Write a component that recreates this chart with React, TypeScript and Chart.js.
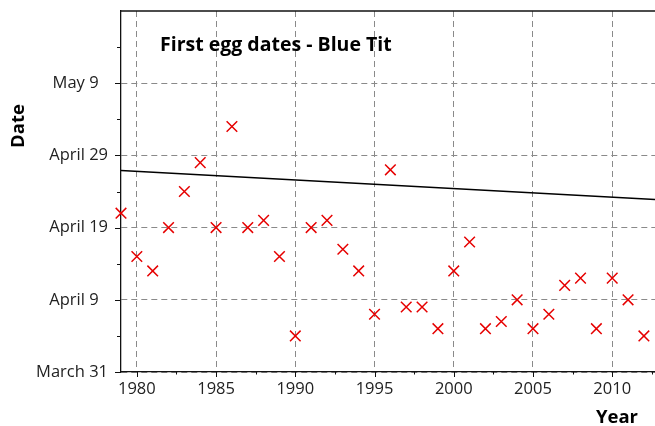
import React, { useEffect, useRef } from "react";
import { Chart, registerables } from "chart.js";

Chart.register(...registerables);

// ---- data ----
const years = [
  1979, 1980, 1981, 1982, 1983, 1984, 1985, 1986, 1987, 1988, 1989, 1990,
  1991, 1992, 1993, 1994, 1995, 1996, 1997, 1998, 1999, 2000, 2001, 2002,
  2003, 2004, 2005, 2006, 2007, 2008, 2009, 2010, 2011, 2012,
];
// days after March 31
const firstEggDays = [
  22, 16, 14, 20, 25, 29, 20, 34, 20, 21, 16, 5,
  20, 21, 17, 14, 8, 28, 9, 9, 6, 14, 18, 6,
  7, 10, 6, 8, 12, 13, 6, 13, 10, 5,
];
const trendYears = [1979, 2012.7];
const trendDays = [27.9, 23.9];

const yTickValues = [0, 10, 20, 30, 40];
const yTickLabels = ["March 31", "April 9\u2007", "April 19", "April 29", "May 9\u2007"];
const yMinorValues = [5, 15, 25, 35, 45];
const xTickValues = [1980, 1985, 1990, 1995, 2000, 2005, 2010];
const xMinorValues = [1982.5, 1987.5, 1992.5, 1997.5, 2002.5, 2007.5, 2012.5];

const TITLE = "First egg dates - Blue Tit";
const X_TITLE = "Year";
const Y_TITLE = "Date";

const FONT = '"Open Sans", "DejaVu Sans", sans-serif';

const decorPlugin = {
  id: "decor",
  afterDraw(chart: any) {
    const { ctx, chartArea: a, scales } = chart;
    ctx.save();
    ctx.strokeStyle = "#111";
    ctx.lineWidth = 1.3;
    // top border
    ctx.beginPath();
    ctx.moveTo(a.left, a.top);
    ctx.lineTo(chart.width, a.top);
    ctx.stroke();
    // tick marks
    ctx.lineWidth = 1;
    ctx.beginPath();
    xTickValues.forEach((v) => {
      const px = Math.round(scales.x.getPixelForValue(v)) + 0.5;
      ctx.moveTo(px, a.bottom);
      ctx.lineTo(px, a.bottom + 5);
    });
    xMinorValues.forEach((v) => {
      const px = Math.round(scales.x.getPixelForValue(v)) + 0.5;
      ctx.moveTo(px, a.bottom);
      ctx.lineTo(px, a.bottom + 2.5);
    });
    yTickValues.forEach((v) => {
      const py = Math.round(scales.y.getPixelForValue(v)) + 0.5;
      ctx.moveTo(a.left, py);
      ctx.lineTo(a.left - 6, py);
    });
    yMinorValues.forEach((v) => {
      const py = Math.round(scales.y.getPixelForValue(v)) + 0.5;
      ctx.moveTo(a.left, py);
      ctx.lineTo(a.left - 4, py);
    });
    ctx.stroke();
    // title
    ctx.fillStyle = "#000";
    ctx.font = `bold 19.5px ${FONT}`;
    ctx.textAlign = "left";
    ctx.textBaseline = "alphabetic";
    ctx.fillText(TITLE, a.left + 39, a.top + 39.5);
    // axis titles
    ctx.font = `bold 18.5px ${FONT}`;
    ctx.textAlign = "center";
    ctx.fillText(X_TITLE, 617, 423);
    ctx.save();
    ctx.translate(24, 126);
    ctx.rotate(-Math.PI / 2);
    ctx.fillText(Y_TITLE, 0, 0);
    ctx.restore();
    ctx.restore();
  },
};

const zeroPad = (s: any) => {
  s.paddingTop = 0;
  s.paddingBottom = 0;
  s.paddingLeft = 0;
  s.paddingRight = 0;
};

export default function App() {
  const ref = useRef<HTMLCanvasElement | null>(null);
  useEffect(() => {
    if (!ref.current) return;
    const chart = new Chart(ref.current, {
      type: "scatter",
      data: {
        datasets: [
          {
            label: "First egg date",
            data: years.map((y, i) => ({ x: y, y: firstEggDays[i] })),
            pointStyle: "crossRot",
            pointRadius: 7.5,
            pointHoverRadius: 7.5,
            borderColor: "#e60000",
            backgroundColor: "#e60000",
            pointBorderWidth: 1.5,
            showLine: false,
            clip: false,
          },
          {
            label: "Trend",
            data: trendYears.map((y, i) => ({ x: y, y: trendDays[i] })),
            showLine: true,
            borderColor: "#000",
            borderWidth: 1.5,
            pointRadius: 0,
            fill: false,
          },
        ],
      },
      plugins: [decorPlugin],
      options: {
        responsive: false,
        animation: false,
        events: [],
        layout: { autoPadding: false, padding: { top: 11, right: 0, left: 0, bottom: 0 } },
        plugins: {
          legend: { display: false },
          tooltip: { enabled: false },
          title: { display: false },
        },
        scales: {
          x: {
            type: "linear",
            min: 1979,
            max: 2012.7,
            afterBuildTicks: (s: any) => {
              s.ticks = xTickValues.map((v) => ({ value: v }));
            },
            afterFit: (s: any) => {
              s.height = 54;
              zeroPad(s);
            },
            ticks: {
              padding: 7,
              autoSkip: false,
              maxRotation: 0,
              color: "#222",
              font: { family: FONT, size: 16.5 },
              callback: (v: any) => String(v),
            },
            grid: {
              drawTicks: false,
              color: "#8a8a8a",
              lineWidth: 1,
            },
            border: { display: true, color: "#111", width: 1.3, dash: [6, 4] },
          },
          y: {
            type: "linear",
            min: 0,
            max: 50,
            afterBuildTicks: (s: any) => {
              s.ticks = yTickValues.map((v) => ({ value: v }));
            },
            afterFit: (s: any) => {
              s.width = 121;
              zeroPad(s);
            },
            ticks: {
              padding: 13,
              autoSkip: false,
              color: "#222",
              font: { family: FONT, size: 16.5 },
              callback: (v: any) => {
                const i = yTickValues.indexOf(Number(v));
                return i >= 0 ? yTickLabels[i] : null;
              },
            },
            grid: {
              drawTicks: false,
              color: "#8a8a8a",
              lineWidth: 1,
            },
            border: { display: true, color: "#111", width: 1.3, dash: [6, 4] },
          },
        },
      },
    });
    return () => chart.destroy();
  }, []);
  return (
    <div style={{ position: "fixed", left: 0, top: 0, width: 655, height: 426, background: "#fff" }}>
      <canvas ref={ref} width={655} height={426} />
    </div>
  );
}
